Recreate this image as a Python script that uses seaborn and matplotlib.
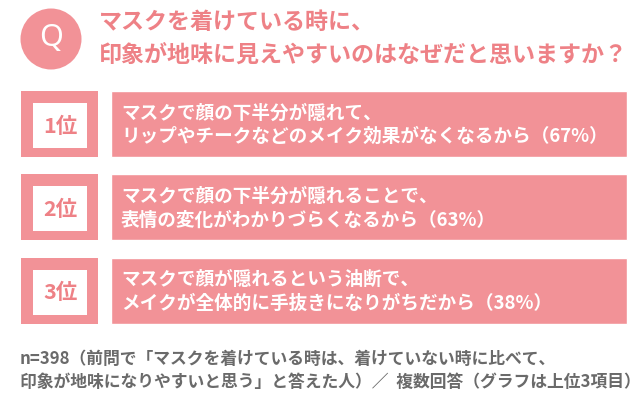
import matplotlib
matplotlib.use("Agg")
import matplotlib.pyplot as plt
from matplotlib.patches import Circle, Rectangle
import pandas as pd
import seaborn as sns

# ── Data ───────────────────────────────────────────────────────────────
question = ["マスクを着けている時に、", "印象が地味に見えやすいのはなぜだと思いますか？"]
ranks = ["1位", "2位", "3位"]
reason_head = [
    "マスクで顔の下半分が隠れて、",
    "マスクで顔の下半分が隠れることで、",
    "マスクで顔が隠れるという油断で、",
]
reason_tail = [
    "リップやチークなどのメイク効果がなくなるから",
    "表情の変化がわかりづらくなるから",
    "メイクが全体的に手抜きになりがちだから",
]
shares = [67, 63, 38]
footnote = [
    "n=398（前問で「マスクを着けている時は、着けていない時に比べて、",
    "印象が地味になりやすいと思う」と答えた人）／  複数回答（グラフは上位3項目）",
]

# ── Style ──────────────────────────────────────────────────────────────
PINK = "#F29297"
PINK_TEXT = "#EE8186"
GREY = "#6A6A6A"

sns.set_theme(style="white")
plt.rcParams["font.family"] = ["Noto Sans CJK JP", "DejaVu Sans"]

W, H = 640, 405
fig = plt.figure(figsize=(W / 100, H / 100), dpi=100)
fig.patch.set_facecolor("white")

# pixel-space canvas for heading and footnote
canvas = fig.add_axes([0, 0, 1, 1])
canvas.set_xlim(0, W)
canvas.set_ylim(H, 0)
canvas.axis("off")

canvas.add_patch(Circle((51, 39), 30.5, color=PINK, lw=0))
canvas.text(51, 38, "Q", color="white", fontsize=22, ha="center", va="center",
            family=["Noto Sans", "DejaVu Sans"], fontweight="light")
canvas.text(99, 22, question[0], color=PINK_TEXT, fontsize=16.6,
            fontweight="bold", ha="left", va="center")
canvas.text(99, 56, question[1], color=PINK_TEXT, fontsize=16.6,
            fontweight="bold", ha="left", va="center")

canvas.text(20, 359, footnote[0], color=GREY, fontsize=12.1,
            fontweight="bold", ha="left", va="center")
canvas.text(20, 382, footnote[1], color=GREY, fontsize=12.1,
            fontweight="bold", ha="left", va="center")

# ── Ranking rows ───────────────────────────────────────────────────────
row_top, row_step = 82.5, 83.3          # pixels
bar_left, bar_right = 111, 627          # pixels
rows_ax = fig.add_axes([0, 1 - (row_top + 3 * row_step) / H, 1, 3 * row_step / H])

df = pd.DataFrame({
    "rank": ranks,
    "panel": [bar_right - bar_left] * len(ranks),
})
sns.barplot(data=df, x="panel", y="rank", orient="h", color=PINK,
            saturation=1, width=66 / row_step, ax=rows_ax)

rows_ax.set_xlim(-bar_left, W - bar_left)
rows_ax.set_ylim(len(ranks) - 0.5, -0.5)
rows_ax.axis("off")

px = 1 / row_step
for i, (rk, head, tail, pct) in enumerate(zip(ranks, reason_head, reason_tail, shares)):
    # rank badge: pink frame with white inset
    rows_ax.add_patch(Rectangle((21 - bar_left, i - 33 * px), 77, 66 * px,
                                color=PINK, lw=0))
    rows_ax.add_patch(Rectangle((33 - bar_left, i - 21 * px), 54, 45 * px,
                                color="white", lw=0))
    rows_ax.text(60 - bar_left, i + 2 * px, rk, color=PINK_TEXT, fontsize=15.5,
                 fontweight="bold", ha="center", va="center")
    rows_ax.text(121 - bar_left, i - 11 * px, head, color="white", fontsize=13.4,
                 fontweight="bold", ha="left", va="center")
    rows_ax.text(121 - bar_left, i + 12.5 * px, f"{tail}（{pct}%）", color="white",
                 fontsize=13.4, fontweight="bold", ha="left", va="center")

fig.savefig("out.png", dpi=100, facecolor="white")
plt.close(fig)
